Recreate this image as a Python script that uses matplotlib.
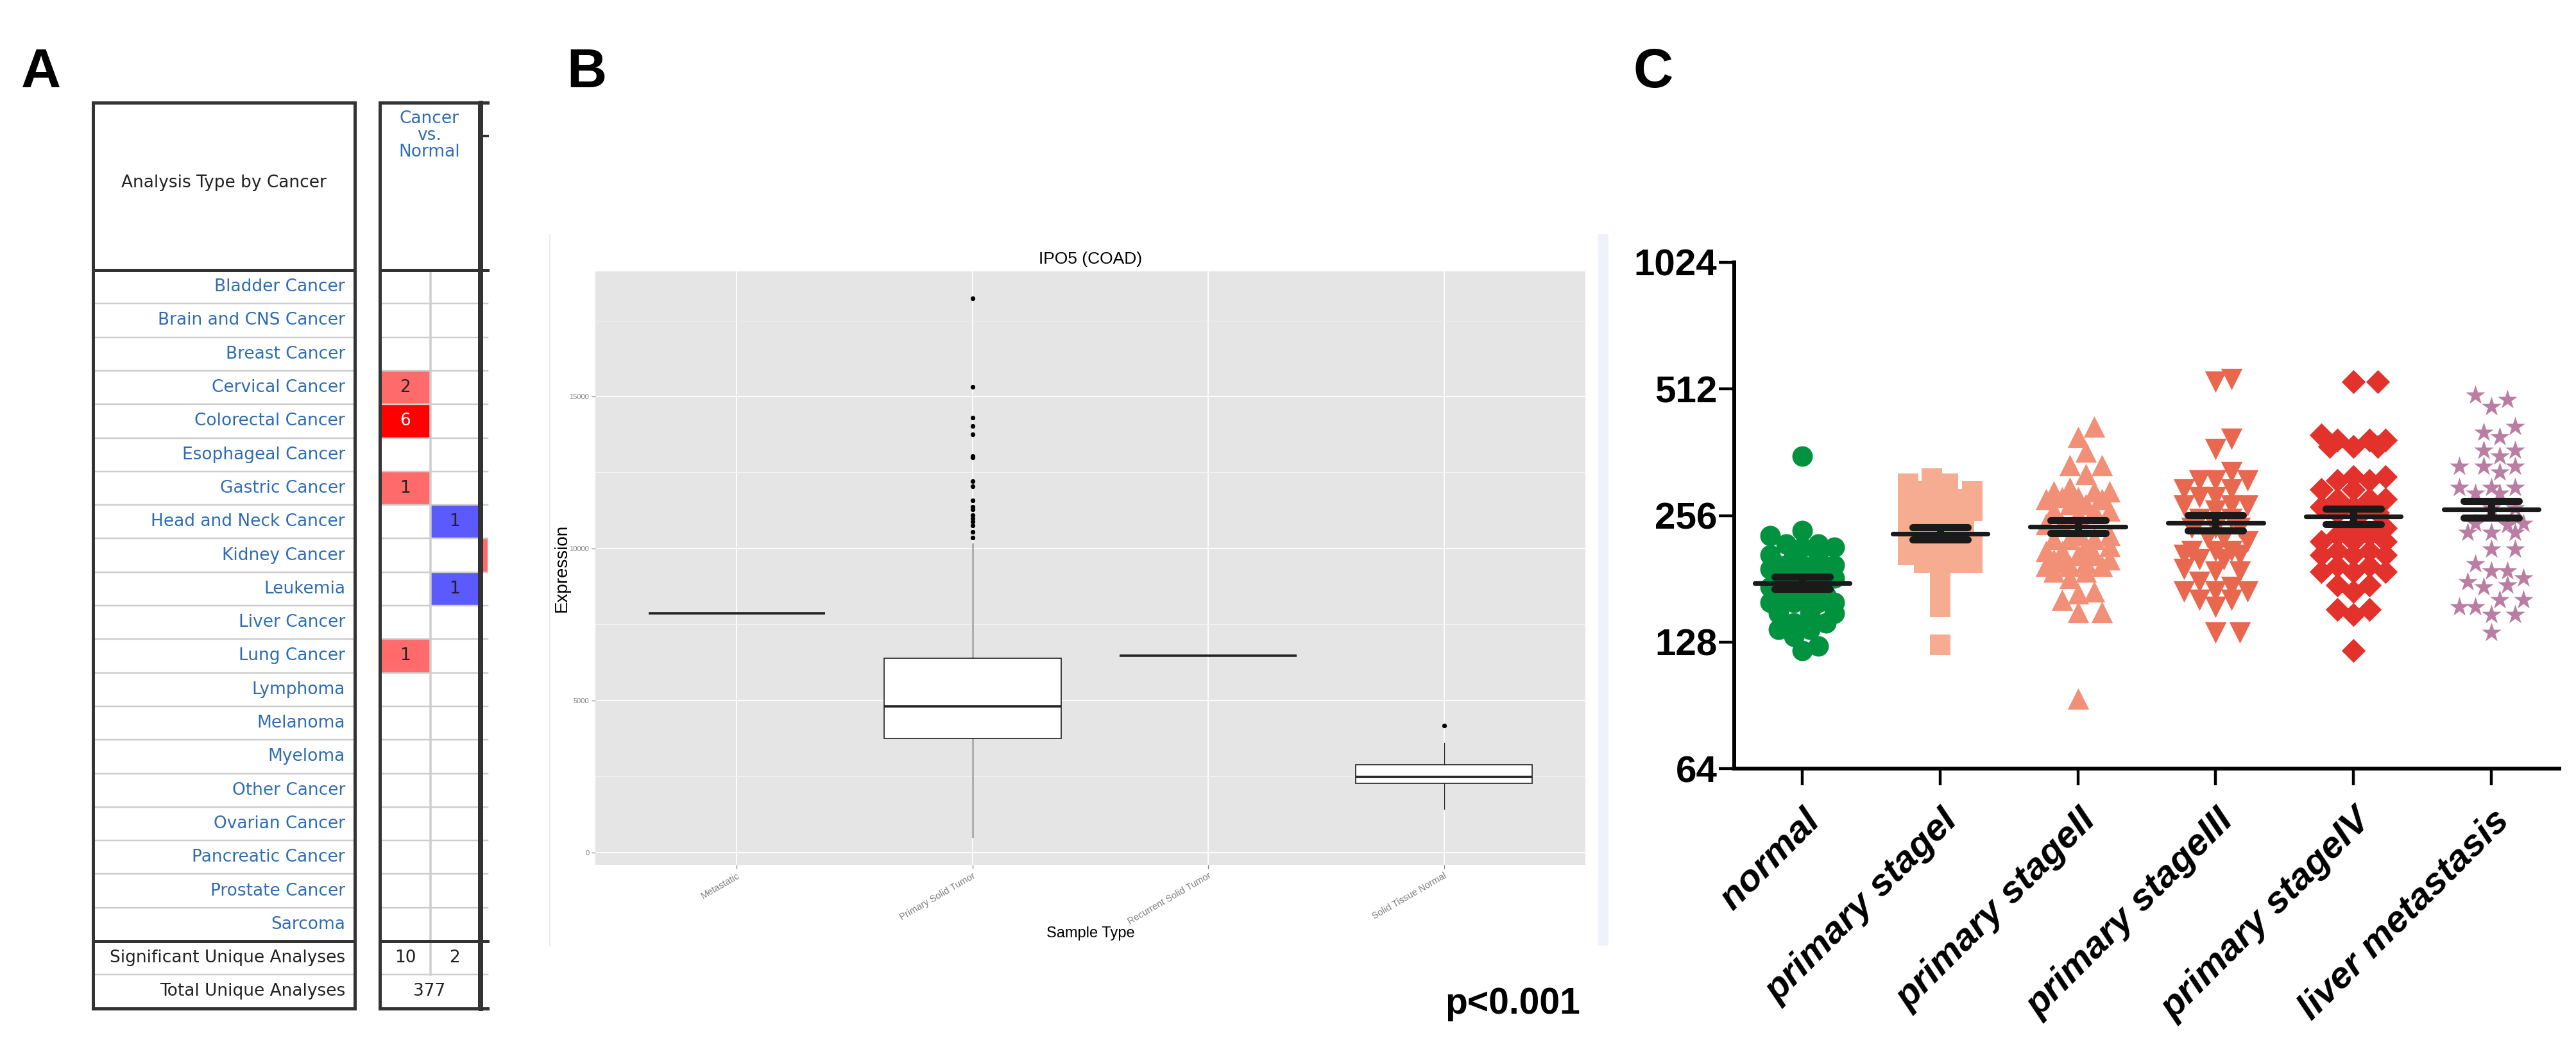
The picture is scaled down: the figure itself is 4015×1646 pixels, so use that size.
import numpy as np
import matplotlib
matplotlib.use('Agg')
import matplotlib.pyplot as plt
from matplotlib.patches import Rectangle
from matplotlib.ticker import NullLocator

plt.rcParams['font.family'] = ['Liberation Sans', 'DejaVu Sans']

# ---------------- panel A data (Oncomine summary) ----------------
cancer_types = ['Bladder Cancer', 'Brain and CNS Cancer', 'Breast Cancer', 'Cervical Cancer',
                'Colorectal Cancer', 'Esophageal Cancer', 'Gastric Cancer', 'Head and Neck Cancer',
                'Kidney Cancer', 'Leukemia', 'Liver Cancer', 'Lung Cancer', 'Lymphoma', 'Melanoma',
                'Myeloma', 'Other Cancer', 'Ovarian Cancer', 'Pancreatic Cancer', 'Prostate Cancer',
                'Sarcoma']
up_counts = [0, 0, 0, 2, 6, 0, 1, 0, 0, 0, 0, 1, 0, 0, 0, 0, 0, 0, 0, 0]
down_counts = [0, 0, 0, 0, 0, 0, 0, 1, 0, 1, 0, 0, 0, 0, 0, 0, 0, 0, 0, 0]
next_col_up = [0, 0, 0, 0, 0, 0, 0, 0, 1, 0, 0, 0, 0, 0, 0, 0, 0, 0, 0, 0]  # cropped column
sig_unique = [10, 2]
total_unique = 377

# ---------------- panel B data (IPO5 COAD boxplot) ----------------
box_labels = ['Metastatic', 'Primary Solid Tumor', 'Recurrent Solid Tumor', 'Solid Tissue Normal']
box_low = [7869, 506, 6481, 1445]
box_q1 = [7869, 3755, 6481, 2285]
box_med = [7869, 4810, 6481, 2494]
box_q3 = [7869, 6392, 6481, 2899]
box_high = [7869, 10169, 6481, 3608]
box_fliers = [[],
              [18230, 15310, 14310, 14040, 13760, 13040, 13000, 12210, 12050, 11580, 11370,
               11290, 11100, 11000, 10890, 10750, 10550, 10360],
              [],
              [4177]]

# ---------------- panel C data (scatter, log2 scale) ----------------
groups = ['normal', 'primary stageI', 'primary stageII', 'primary stageIII',
          'primary stageIV', 'liver metastasis']
vals_normal = [354, 236, 229, 219, 219, 215, 215, 206, 206, 206, 195, 195, 195, 195,
               191, 191, 191, 182, 182, 182, 173, 173, 173, 165, 165, 165, 159, 159, 159, 159,
               150, 150, 150, 142, 142, 137, 137, 132, 125, 122]
vals_stage1 = [313, 305, 305, 292, 292, 280, 280, 280, 263, 263, 263, 251, 251, 251,
               239, 239, 239, 227, 227, 219, 219, 219, 206, 206, 198, 198, 198, 191, 173, 155, 126]
vals_stage2 = [416, 394, 363, 337, 337, 321, 298, 292, 292, 292, 283, 283, 280, 280, 272, 272,
               263, 263, 263, 257, 244, 244, 230, 230, 225, 225, 225, 217, 217, 211, 211,
               206, 206, 201, 201, 198, 198, 194, 194, 194, 188, 188, 182, 169, 167, 161,
               151, 151, 94]
vals_stage3 = [540, 532, 389, 368, 325, 310, 310, 310, 295, 295, 283, 283, 270, 270, 270,
               263, 251, 251, 239, 239, 239, 227, 227, 222, 211, 211, 211, 206, 206, 201, 201,
               191, 188, 188, 178, 173, 169, 169, 169, 161, 161, 155, 135, 135]
vals_stage4 = [533, 533, 398, 387, 387, 387, 373, 373, 373, 317, 317, 310, 310, 295, 295,
               280, 280, 280, 268, 268, 260, 260, 260, 239, 239, 230, 230, 222, 222, 222,
               211, 211, 206, 206, 206, 194, 194, 188, 188, 188, 175, 175, 169, 153, 153, 149, 122]
vals_liver = [495, 483, 465, 416, 404, 394, 366, 366, 354, 335, 335, 335, 325, 298, 298, 298,
              289, 289, 267, 267, 245, 245, 243, 233, 233, 233, 213, 213, 196, 189, 189, 182,
              178, 175, 173, 161, 161, 155, 155, 149, 149, 135]
group_means = [177, 232, 241, 246, 255, 265]
group_sems = [5.7, 7.8, 8.5, 10.6, 11.0, 12.3]

group_vals = [vals_normal, vals_stage1, vals_stage2, vals_stage3, vals_stage4, vals_liver]
group_colors = ['#00923F', '#F5AC90', '#F29077', '#E8674F', '#E3312B', '#BA7EA2']
group_markers = ['o', 's', '^', 'v', 'D', '*']
group_msize = [23, 23, 24, 24, 19, 23]

W, H = 4016, 1646
fig = plt.figure(figsize=(W / 100, H / 100), dpi=100)


def px(v):
    return v * 0.72


# full figure canvas in pixel units (panel A and decorations)
bg = fig.add_axes([0, 0, 1, 1])
bg.set_xlim(0, W)
bg.set_ylim(H, 0)
bg.axis('off')

TOP, HEAD_BOT, ROW_H = 160, 421, 52.3
LX0, LX1, TXT_R = 145, 553, 538
RX0, RXM, RX1, CUT = 592, 671, 747, 760
n = len(cancer_types)
rows_top = HEAD_BOT + ROW_H * np.arange(n)
sarc_bot = HEAD_BOT + ROW_H * n
sig_bot = sarc_bot + ROW_H
tot_bot = sig_bot + ROW_H
blue_txt = '#2e6db3'
dark = '#333333'
light = '#cdcdcd'


def up_color(c):
    return '#ff0000' if c >= 5 else '#ff6b6b'


for i, name in enumerate(cancer_types):
    y0 = rows_top[i]
    yc = y0 + ROW_H / 2
    bg.text(TXT_R, yc, name, ha='right', va='center', color=blue_txt, fontsize=19,
            family='DejaVu Sans')
    if up_counts[i]:
        bg.add_patch(Rectangle((RX0, y0), RXM - RX0, ROW_H, color=up_color(up_counts[i]), lw=0))
        bg.text((RX0 + RXM) / 2, yc, str(up_counts[i]), ha='center', va='center', fontsize=19,
                family='DejaVu Sans', color='white' if up_counts[i] >= 5 else '#222222')
    if down_counts[i]:
        bg.add_patch(Rectangle((RXM, y0), RX1 - RXM, ROW_H, color='#5a5aff', lw=0))
        bg.text((RXM + RX1) / 2, yc, str(down_counts[i]), ha='center', va='center', fontsize=19,
                family='DejaVu Sans', color='#222222')
    if next_col_up[i]:
        bg.add_patch(Rectangle((RX1, y0), CUT - RX1, ROW_H, color='#ff6b6b', lw=0))

# light row separators
for y in list(rows_top[1:]) + [sig_bot]:
    bg.plot([LX0, LX1], [y, y], color=light, lw=px(2.5), zorder=2)
    bg.plot([RX0, CUT], [y, y], color=light, lw=px(2.5), zorder=2)
bg.plot([RXM, RXM], [HEAD_BOT, sig_bot], color=light, lw=px(3.5), zorder=2)

# heavy borders
for x0, x1 in [(LX0, LX1), (RX0, RX1)]:
    bg.add_patch(Rectangle((x0, TOP), x1 - x0, tot_bot - TOP, fill=False, ec=dark,
                           lw=px(5), zorder=3))
for y in [HEAD_BOT, sarc_bot]:
    bg.plot([LX0, LX1], [y, y], color=dark, lw=px(5), zorder=3)
    bg.plot([RX0, CUT], [y, y], color=dark, lw=px(5), zorder=3)
bg.plot([RX1, CUT], [TOP, TOP], color=dark, lw=px(5), zorder=3)
bg.plot([RX1, CUT], [tot_bot, tot_bot], color=dark, lw=px(5), zorder=3)
bg.plot([RX1 + 2, CUT], [212, 212], color=dark, lw=px(4), zorder=3)
bg.plot([RX1 + 2, RX1 + 2], [TOP, tot_bot], color=dark, lw=px(7), zorder=3)

bg.text((LX0 + LX1) / 2, 285, 'Analysis Type by Cancer', ha='center', va='center',
        fontsize=19, color='#222222', family='DejaVu Sans')
bg.text((RX0 + RX1) / 2, 172, 'Cancer\nvs.\nNormal', ha='center', va='top', fontsize=19,
        color=blue_txt, family='DejaVu Sans', linespacing=1.0)
bg.text(TXT_R, sarc_bot + ROW_H / 2, 'Significant Unique Analyses', ha='right', va='center',
        fontsize=19, color='#222222', family='DejaVu Sans')
bg.text(TXT_R, sig_bot + ROW_H / 2, 'Total Unique Analyses', ha='right', va='center',
        fontsize=19, color='#222222', family='DejaVu Sans')
bg.text((RX0 + RXM) / 2, sarc_bot + ROW_H / 2, str(sig_unique[0]), ha='center', va='center',
        fontsize=19, color='#222222', family='DejaVu Sans')
bg.text((RXM + RX1) / 2, sarc_bot + ROW_H / 2, str(sig_unique[1]), ha='center', va='center',
        fontsize=19, color='#222222', family='DejaVu Sans')
bg.text((RX0 + RX1) / 2, sig_bot + ROW_H / 2, str(total_unique), ha='center', va='center',
        fontsize=19, color='#222222', family='DejaVu Sans')

# frame of the pasted panel B image
bg.plot([857, 857], [365, 1474], color='#ebebeb', lw=px(2))
bg.add_patch(Rectangle((2491, 365), 16, 1109, color='#eef2fb', lw=0))

# ---------------- panel B ----------------
axb = fig.add_axes([928 / W, 1 - 1348 / H, (2471 - 928) / W, (1348 - 423) / H])
axb.set_facecolor('#E5E5E5')
stats = []
for i, lab in enumerate(box_labels):
    stats.append(dict(label=lab, whislo=box_low[i], q1=box_q1[i], med=box_med[i],
                      q3=box_q3[i], whishi=box_high[i], fliers=box_fliers[i]))
pos = np.arange(1, len(box_labels) + 1)
axb.bxp(stats, positions=pos, widths=0.75, patch_artist=True, showcaps=False,
        boxprops=dict(facecolor='white', edgecolor='#222222', lw=1.2),
        medianprops=dict(color='#222222', lw=2.6),
        whiskerprops=dict(color='#222222', lw=0.9),
        flierprops=dict(marker='o', markersize=4.2, markerfacecolor='black',
                        markeredgecolor='black'))
axb.set_xlim(0.4, 4.6)
axb.set_ylim(-401, 19114)
axb.set_yticks([0, 5000, 10000, 15000])
axb.set_yticklabels(['0', '5000', '10000', '15000'])
axb.set_yticks([2500, 7500, 12500, 17500], minor=True)
axb.set_xticks(pos)
axb.set_xticklabels(box_labels, rotation=30, ha='right', va='top', rotation_mode='anchor')
axb.grid(which='major', color='white', lw=1.3)
axb.grid(which='minor', axis='y', color='#F2F2F2', lw=0.8)
axb.set_axisbelow(True)
for s in axb.spines.values():
    s.set_visible(False)
axb.tick_params(which='major', colors='#7f7f7f', length=4, width=0.9, pad=3)
axb.tick_params(axis='y', labelsize=8)
axb.tick_params(axis='x', labelsize=10.5)
axb.tick_params(which='minor', length=0)
axb.text(0.5, 1.021, 'IPO5 (COAD)', transform=axb.transAxes, ha='center', va='center',
         fontsize=19)
axb.text(-0.0337, 0.5, 'Expression', transform=axb.transAxes, ha='center', va='center',
         rotation=90, fontsize=20)
axb.text(0.5, -0.1157, 'Sample Type', transform=axb.transAxes, ha='center', va='center',
         fontsize=17)


# ---------------- panel C ----------------
def swarm(values, step=0.058, max_k=4, min_px=25.0, ux=214.8, uy=197.25):
    values = np.asarray(values, dtype=float)
    order = np.argsort(values)
    placed = []
    offs = np.zeros(len(values))
    cand = sorted(range(-max_k, max_k + 1), key=lambda k: (abs(k), -k))
    for i in order:
        ypx = np.log2(values[i]) * uy
        best_k, best_d = 0, -1.0
        for k in cand:
            xpx = k * step * ux
            d = min((np.hypot(xpx - a, ypx - b) for a, b in placed), default=1e9)
            if d >= min_px:
                best_k = k
                break
            if d > best_d:
                best_k, best_d = k, d
        offs[i] = best_k * step
        placed.append((best_k * step * ux, ypx))
    return offs


axc = fig.add_axes([2703 / W, 1 - 1198 / H, (3989 - 2703) / W, (1198 - 409) / H])
xs = np.arange(1, len(groups) + 1)
for x, vals, col, mk, ms in zip(xs, group_vals, group_colors, group_markers, group_msize):
    off = swarm(vals)
    axc.scatter(x + off, vals, s=ms ** 2, marker=mk, color=col, linewidths=0, zorder=2,
                clip_on=False)

means = np.array(group_means, dtype=float)
sems = np.array(group_sems, dtype=float)
lc = axc.hlines(means, xs - 0.345, xs + 0.345, color='#1a1a1a', lw=5.2, zorder=4)
lc.set_capstyle('round')
lc = axc.hlines(np.r_[means + sems, means - sems], np.r_[xs, xs] - 0.2, np.r_[xs, xs] + 0.2,
                color='#1a1a1a', lw=8, zorder=4)
lc.set_capstyle('round')
axc.vlines(xs, means - sems, means + sems, color='#1a1a1a', lw=8, zorder=4)

axc.set_yscale('log', base=2)
axc.set_ylim(64, 1024)
axc.set_xlim(0.507, 6.493)
yt = [64, 128, 256, 512, 1024]
axc.set_yticks(yt)
axc.set_yticklabels([str(v) for v in yt])
axc.yaxis.set_minor_locator(NullLocator())
axc.set_xticks(xs)
axc.set_xticklabels(groups, rotation=45, ha='right', va='top', rotation_mode='anchor',
                    fontstyle='italic')
for s in ['top', 'right']:
    axc.spines[s].set_visible(False)
for s in ['left', 'bottom']:
    axc.spines[s].set_linewidth(4.3)
axc.tick_params(axis='y', length=17, width=3.2, pad=2, labelsize=42)
axc.tick_params(axis='x', length=19, width=3.2, pad=20, labelsize=42)
for lab in axc.get_yticklabels() + axc.get_xticklabels():
    lab.set_fontweight('bold')

# ---------------- labels ----------------
for txt, x in [('A', 33), ('B', 883), ('C', 2546)]:
    fig.text(x / W, 1 - 136 / H, txt, fontsize=62, fontweight='bold', ha='left', va='baseline')
fig.text(2252 / W, 1 - 1580 / H, 'p<0.001', fontsize=41, fontweight='bold', ha='left',
         va='baseline')

fig.savefig('out.png', dpi=100)
